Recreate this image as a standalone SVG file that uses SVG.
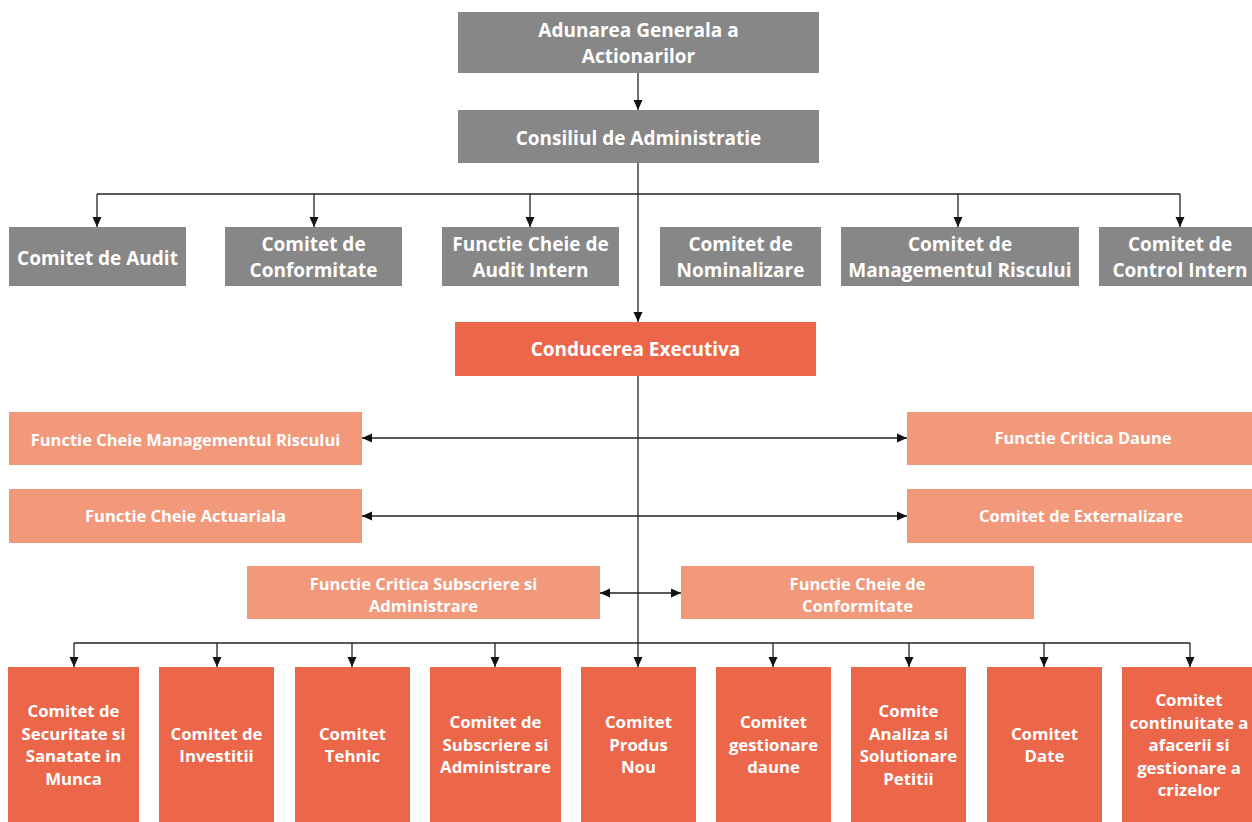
<svg xmlns="http://www.w3.org/2000/svg" width="1252" height="822" viewBox="0 0 1252 822">
<style>
text{font-family:"Open Sans","Noto Sans","Liberation Sans",sans-serif;font-weight:700;fill:#fff;text-anchor:middle}
.g{fill:#878787}.o{fill:#EC674A}.s{fill:#F2997B}
.t1{font-size:19px}.t2{font-size:16.8px}.t3{font-size:16.5px}
.c{stroke:#222;stroke-width:1.3;fill:none}
</style>
<defs>
<marker id="ah" viewBox="0 0 10 10" refX="10" refY="5" markerWidth="10" markerHeight="10" markerUnits="userSpaceOnUse" orient="auto-start-reverse"><path d="M0,0.5 L10,5 L0,9.5 Z" fill="#111"/></marker>
</defs>
<g id="connectors">
<path class="c" d="M638,73 V110" marker-end="url(#ah)"/>
<path class="c" d="M638,163 V322" marker-end="url(#ah)"/>
<path class="c" d="M97,194 H1180"/>
<path class="c" d="M97,194 V227" marker-end="url(#ah)"/>
<path class="c" d="M314,194 V227" marker-end="url(#ah)"/>
<path class="c" d="M530,194 V227" marker-end="url(#ah)"/>
<path class="c" d="M958,194 V227" marker-end="url(#ah)"/>
<path class="c" d="M1180,194 V227" marker-end="url(#ah)"/>
<path class="c" d="M638,376 V667" marker-end="url(#ah)"/>
<path class="c" d="M362,438 H907" marker-start="url(#ah)" marker-end="url(#ah)"/>
<path class="c" d="M362,516 H907" marker-start="url(#ah)" marker-end="url(#ah)"/>
<path class="c" d="M600,593 H681" marker-start="url(#ah)" marker-end="url(#ah)"/>
<path class="c" d="M74,643 H1190"/>
<path class="c" d="M74,643 V667" marker-end="url(#ah)"/>
<path class="c" d="M217,643 V667" marker-end="url(#ah)"/>
<path class="c" d="M352,643 V667" marker-end="url(#ah)"/>
<path class="c" d="M495,643 V667" marker-end="url(#ah)"/>
<path class="c" d="M773,643 V667" marker-end="url(#ah)"/>
<path class="c" d="M909,643 V667" marker-end="url(#ah)"/>
<path class="c" d="M1044,643 V667" marker-end="url(#ah)"/>
<path class="c" d="M1190,643 V667" marker-end="url(#ah)"/>
</g>
<g id="adunarea"><rect class="g" x="458" y="12" width="361" height="61"/><text class="t1" x="638.5" y="37">Adunarea Generala a</text><text class="t1" x="638.5" y="63">Actionarilor</text></g>
<g id="consiliul"><rect class="g" x="458" y="110" width="361" height="53"/><text class="t1" x="638.5" y="145">Consiliul de Administratie</text></g>
<g id="audit"><rect class="g" x="9" y="227" width="177" height="59"/><text class="t1" x="97.5" y="265">Comitet de Audit</text></g>
<g id="conformitate"><rect class="g" x="225" y="227" width="177" height="59"/><text class="t1" x="313.5" y="251">Comitet de</text><text class="t1" x="313.5" y="277">Conformitate</text></g>
<g id="auditintern"><rect class="g" x="442" y="227" width="177" height="59"/><text class="t1" x="530.5" y="251">Functie Cheie de</text><text class="t1" x="530.5" y="277">Audit Intern</text></g>
<g id="nominalizare"><rect class="g" x="660" y="227" width="161" height="59"/><text class="t1" x="740.5" y="251">Comitet de</text><text class="t1" x="740.5" y="277">Nominalizare</text></g>
<g id="riscului"><rect class="g" x="841" y="227" width="238" height="59"/><text class="t1" x="960" y="251">Comitet de</text><text class="t1" x="960" y="277">Managementul Riscului</text></g>
<g id="controlintern"><rect class="g" x="1099" y="227" width="153" height="59"/><text class="t1" x="1180" y="251">Comitet de</text><text class="t1" x="1180" y="277">Control Intern</text></g>
<g id="conducerea"><rect class="o" x="455" y="322" width="361" height="54"/><text class="t1" x="635.5" y="356">Conducerea Executiva</text></g>
<g id="fcmr"><rect class="s" x="9" y="412" width="353" height="53"/><text class="t3" x="185.5" y="446">Functie Cheie Managementul Riscului</text></g>
<g id="fcd"><rect class="s" x="907" y="412" width="345" height="53"/><text class="t3" x="1083" y="444">Functie Critica Daune</text></g>
<g id="fca"><rect class="s" x="9" y="489" width="353" height="54"/><text class="t3" x="185.5" y="522">Functie Cheie Actuariala</text></g>
<g id="ce"><rect class="s" x="907" y="489" width="345" height="54"/><text class="t3" x="1081" y="522">Comitet de Externalizare</text></g>
<g id="fcsa"><rect class="s" x="247" y="566" width="353" height="53"/><text class="t3" x="423.5" y="590">Functie Critica Subscriere si</text><text class="t3" x="423.5" y="612">Administrare</text></g>
<g id="fcc"><rect class="s" x="681" y="566" width="353" height="53"/><text class="t3" x="857.5" y="590">Functie Cheie de</text><text class="t3" x="857.5" y="612">Conformitate</text></g>
<g id="b1"><rect class="o" x="8" y="667" width="131" height="155"/><text class="t2" x="73.5" y="717">Comitet de</text><text class="t2" x="73.5" y="739.5">Securitate si</text><text class="t2" x="73.5" y="762">Sanatate in</text><text class="t2" x="73.5" y="784.5">Munca</text></g>
<g id="b2"><rect class="o" x="159" y="667" width="115" height="155"/><text class="t2" x="216.5" y="739.5">Comitet de</text><text class="t2" x="216.5" y="762">Investitii</text></g>
<g id="b3"><rect class="o" x="295" y="667" width="115" height="155"/><text class="t2" x="352.5" y="739.5">Comitet</text><text class="t2" x="352.5" y="762">Tehnic</text></g>
<g id="b4"><rect class="o" x="430" y="667" width="131" height="155"/><text class="t2" x="495.5" y="728">Comitet de</text><text class="t2" x="495.5" y="750.5">Subscriere si</text><text class="t2" x="495.5" y="773">Administrare</text></g>
<g id="b5"><rect class="o" x="581" y="667" width="115" height="155"/><text class="t2" x="638.5" y="728">Comitet</text><text class="t2" x="638.5" y="750.5">Produs</text><text class="t2" x="638.5" y="773">Nou</text></g>
<g id="b6"><rect class="o" x="716" y="667" width="115" height="155"/><text class="t2" x="773.5" y="728">Comitet</text><text class="t2" x="773.5" y="750.5">gestionare</text><text class="t2" x="773.5" y="773">daune</text></g>
<g id="b7"><rect class="o" x="851" y="667" width="115" height="155"/><text class="t2" x="908.5" y="717">Comite</text><text class="t2" x="908.5" y="739.5">Analiza si</text><text class="t2" x="908.5" y="762">Solutionare</text><text class="t2" x="908.5" y="784.5">Petitii</text></g>
<g id="b8"><rect class="o" x="987" y="667" width="115" height="155"/><text class="t2" x="1044.5" y="739.5">Comitet</text><text class="t2" x="1044.5" y="762">Date</text></g>
<g id="b9"><rect class="o" x="1122" y="667" width="130" height="155"/><text class="t2" x="1189" y="706">Comitet</text><text class="t2" x="1189" y="728.5">continuitate a</text><text class="t2" x="1189" y="751">afacerii si</text><text class="t2" x="1189" y="773.5">gestionare a</text><text class="t2" x="1189" y="796">crizelor</text></g>
</svg>
